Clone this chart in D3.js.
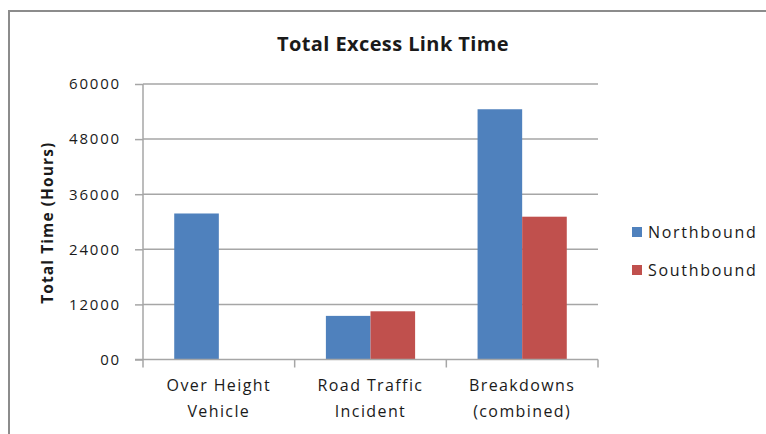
<!DOCTYPE html>
<html>
<head>
<meta charset="utf-8">
<script src="https://cdn.jsdelivr.net/npm/d3@7/dist/d3.min.js"></script>
<style>
  html, body { margin: 0; padding: 0; background: #fff; }
  svg { display: block; }
  text { font-family: "Open Sans", Lato, sans-serif; fill: #1a1a1a; }
</style>
</head>
<body>
<svg id="chart" width="766" height="434"></svg>
<script>
// Chart data
const categories = [["Over Height", "Vehicle"], ["Road Traffic", "Incident"], ["Breakdowns", "(combined)"]];
const seriesNames = ["Northbound", "Southbound"];
const northbound = [31800, 9500, 54500];
const southbound = [0, 10500, 31100];
const yTicks = [0, 12000, 24000, 36000, 48000, 60000];
const yTickLabels = ["00", "12000", "24000", "36000", "48000", "60000"];
const colors = ["#4f81bd", "#c0504d"];

const svg = d3.select("#chart");

// outer frame
svg.append("rect")
  .attr("x", 9).attr("y", 11)
  .attr("width", 800).attr("height", 500)
  .attr("fill", "none").attr("stroke", "#8c8c8c").attr("stroke-width", 2);

const plot = { left: 143, right: 598, top: 84, bottom: 359.5 };

const x = d3.scaleBand()
  .domain(d3.range(categories.length))
  .range([plot.left, plot.right])
  .paddingInner(0).paddingOuter(0);

const x1 = d3.scaleBand()
  .domain(seriesNames)
  .range([0, x.bandwidth()])
  .paddingInner(0).paddingOuter(0.7);

const y = d3.scaleLinear().domain([0, 60000]).range([plot.bottom, plot.top]);

// horizontal gridlines
svg.append("g").selectAll("line")
  .data(yTicks.slice(1))
  .join("line")
  .attr("x1", plot.left).attr("x2", plot.right)
  .attr("y1", d => y(d)).attr("y2", d => y(d))
  .attr("stroke", "#a6a6a6").attr("stroke-width", 1.5);

// bars
const rows = categories.map((c, i) => [northbound[i], southbound[i]]);
const groups = svg.append("g").selectAll("g")
  .data(rows)
  .join("g")
  .attr("transform", (d, i) => `translate(${x(i)},0)`);
groups.selectAll("rect")
  .data(d => d.map((v, j) => ({ v, name: seriesNames[j], j })))
  .join("rect")
  .attr("x", d => x1(d.name))
  .attr("width", x1.bandwidth())
  .attr("y", d => y(d.v))
  .attr("height", d => y(0) - y(d.v))
  .attr("fill", d => colors[d.j]);

// y axis
const yAxis = d3.axisLeft(y)
  .tickValues(yTicks)
  .tickSize(8)
  .tickPadding(14)
  .tickFormat((d, i) => yTickLabels[i]);
const gy = svg.append("g").attr("transform", `translate(${plot.left},0)`).call(yAxis);
gy.select(".domain").attr("stroke", "#a6a6a6").attr("stroke-width", 1.5).attr("d", `M0,${plot.top}V${plot.bottom}`);
gy.selectAll(".tick line").attr("stroke", "#a6a6a6").attr("stroke-width", 1.5);
gy.selectAll(".tick text")
  .attr("font-size", 15).attr("fill", "#1a1a1a")
  .attr("font-family", "'Open Sans', sans-serif")
  .attr("letter-spacing", 1.8);

// x axis with tick marks on category boundaries
const bounds = d3.range(categories.length + 1).map(i => i < categories.length ? x(i) : x(i - 1) + x.bandwidth());
const gx = svg.append("g");
gx.append("line")
  .attr("x1", plot.left - 8).attr("x2", plot.right)
  .attr("y1", plot.bottom).attr("y2", plot.bottom)
  .attr("stroke", "#a6a6a6").attr("stroke-width", 1.5);
gx.selectAll("line.tk")
  .data(bounds)
  .join("line")
  .attr("class", "tk")
  .attr("x1", d => d).attr("x2", d => d)
  .attr("y1", plot.bottom).attr("y2", plot.bottom + 8)
  .attr("stroke", "#a6a6a6").attr("stroke-width", 1.5);
gx.selectAll("text")
  .data(categories)
  .join("text")
  .attr("text-anchor", "middle")
  .attr("font-size", 16)
  .attr("letter-spacing", 1.4)
  .attr("x", (d, i) => x(i) + x.bandwidth() / 2)
  .attr("y", 391)
  .each(function (d) {
    d3.select(this).selectAll("tspan")
      .data(d)
      .join("tspan")
      .attr("x", d3.select(this).attr("x"))
      .attr("dy", (t, k) => k === 0 ? 0 : 26)
      .text(t => t);
  });

// title
svg.append("text")
  .attr("x", 393).attr("y", 51)
  .attr("text-anchor", "middle")
  .attr("font-size", 20).attr("font-weight", "bold")
  .attr("letter-spacing", 0.4)
  .text("Total Excess Link Time");

// y axis title
svg.append("text")
  .attr("transform", `translate(53,${(plot.top + plot.bottom) / 2 + 1}) rotate(-90)`)
  .attr("text-anchor", "middle")
  .attr("font-size", 15.5).attr("font-weight", "bold")
  .attr("letter-spacing", 1.1)
  .text("Total Time (Hours)");

// legend
const legend = svg.append("g").selectAll("g")
  .data(seriesNames)
  .join("g")
  .attr("transform", (d, i) => `translate(632,${232 + i * 38})`);
legend.append("rect")
  .attr("x", 0).attr("y", -5).attr("width", 10).attr("height", 10)
  .attr("fill", (d, i) => colors[i]);
legend.append("text")
  .attr("x", 16).attr("y", 5.5)
  .attr("font-size", 16)
  .attr("letter-spacing", 1.7)
  .text(d => d);
</script>
</body>
</html>
